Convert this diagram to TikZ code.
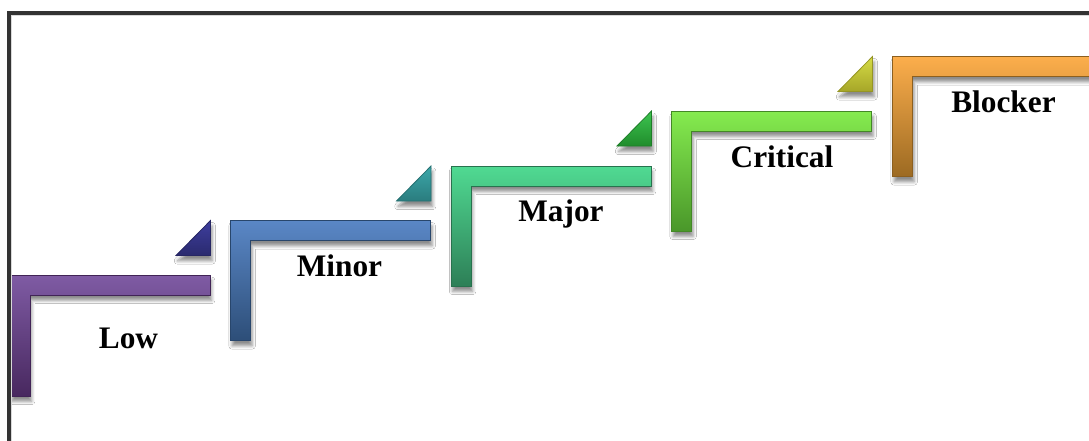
\documentclass[tikz,border=0pt]{standalone}
\usepackage{fontspec}
\setmainfont{Liberation Serif}
\usetikzlibrary{shadows.blur}

% stair colours: top / bottom of each gradient
\definecolor{lowT}{HTML}{7F5BA4}\definecolor{lowB}{HTML}{48285F}
\definecolor{minT}{HTML}{5A87C6}\definecolor{minB}{HTML}{2D4E78}
\definecolor{majT}{HTML}{50DA92}\definecolor{majB}{HTML}{2D7F57}
\definecolor{criT}{HTML}{85EB4F}\definecolor{criB}{HTML}{4A972A}
\definecolor{blkT}{HTML}{FCAE4C}\definecolor{blkB}{HTML}{9C6A22}
% small corner triangles
\definecolor{triAT}{HTML}{3E3E9E}\definecolor{triAB}{HTML}{2A2A6E}
\definecolor{triBT}{HTML}{3CA8AA}\definecolor{triBB}{HTML}{2A7C7E}
\definecolor{triCT}{HTML}{3DC550}\definecolor{triCB}{HTML}{208C2C}
\definecolor{triDT}{HTML}{D6DC46}\definecolor{triDB}{HTML}{A6A628}
\definecolor{frame}{HTML}{333333}

\begin{document}
\begin{tikzpicture}[x=0.75pt,y=-0.75pt,
  piece/.style n args={2}{line width=0.6pt, draw=#2!90!black,
    top color=#1, bottom color=#2,
    blur shadow={shadow xshift=1.2pt, shadow yshift=-4pt,
                 shadow blur radius=2.5pt, shadow opacity=45}},
  lbl/.style={font=\fontsize{23.5}{28}\selectfont\bfseries,
              anchor=base, inner sep=0pt, text=black}]

\useasboundingbox (0,0) rectangle (1089,440);
\clip (0,0) rectangle (1089,440);
\fill[white] (0,0) rectangle (1089,440);

% L-shaped stairs: bar 200 wide, 20 thick, leg 120 tall
\draw[piece={lowT}{lowB}] (10,275) -- ++(200,0) -- ++(0,20) -- ++(-180,0) -- ++(0,101) -- ++(-20,0) -- cycle;
\draw[piece={minT}{minB}] (230.5,220.5) -- ++(200,0) -- ++(0,20) -- ++(-180,0) -- ++(0,100) -- ++(-20,0) -- cycle;
\draw[piece={majT}{majB}] (451,166) -- ++(200,0) -- ++(0,20) -- ++(-180,0) -- ++(0,100) -- ++(-20,0) -- cycle;
\draw[piece={criT}{criB}] (671.5,111) -- ++(200,0) -- ++(0,20) -- ++(-180,0) -- ++(0,100) -- ++(-20,0) -- cycle;
\draw[piece={blkT}{blkB}] (892.5,56.5) -- ++(200,0) -- ++(0,20) -- ++(-180,0) -- ++(0,100) -- ++(-20,0) -- cycle;

% corner triangles in front of each stair
\draw[piece={triAT}{triAB}] (210.5,220.5) -- (210.5,255.5) -- (176,255.5) -- cycle;
\draw[piece={triBT}{triBB}] (431,166) -- (431,201) -- (396.5,201) -- cycle;
\draw[piece={triCT}{triCB}] (651.5,111) -- (651.5,146) -- (617,146) -- cycle;
\draw[piece={triDT}{triDB}] (872.5,56.5) -- (872.5,91.5) -- (838,91.5) -- cycle;

% labels
\node[lbl] (low)      at (128.5,348)   {Low};
\node[lbl] (minor)    at (339.5,276.5) {Minor};
\node[lbl] (major)    at (561,221)     {Major};
\node[lbl] (critical) at (782,167.5)   {Critical};
\node[lbl] (blocker)  at (1003.5,112.7){Blocker};

% outer frame (only the top and left edges fall inside the page)
\draw[line width=0.8pt, black!15] (11.5,460) -- (11.5,15.5) -- (1100,15.5);
\draw[line width=2.8pt, frame] (9.2,460) -- (9.2,13) -- (1100,13);
\end{tikzpicture}
\end{document}
